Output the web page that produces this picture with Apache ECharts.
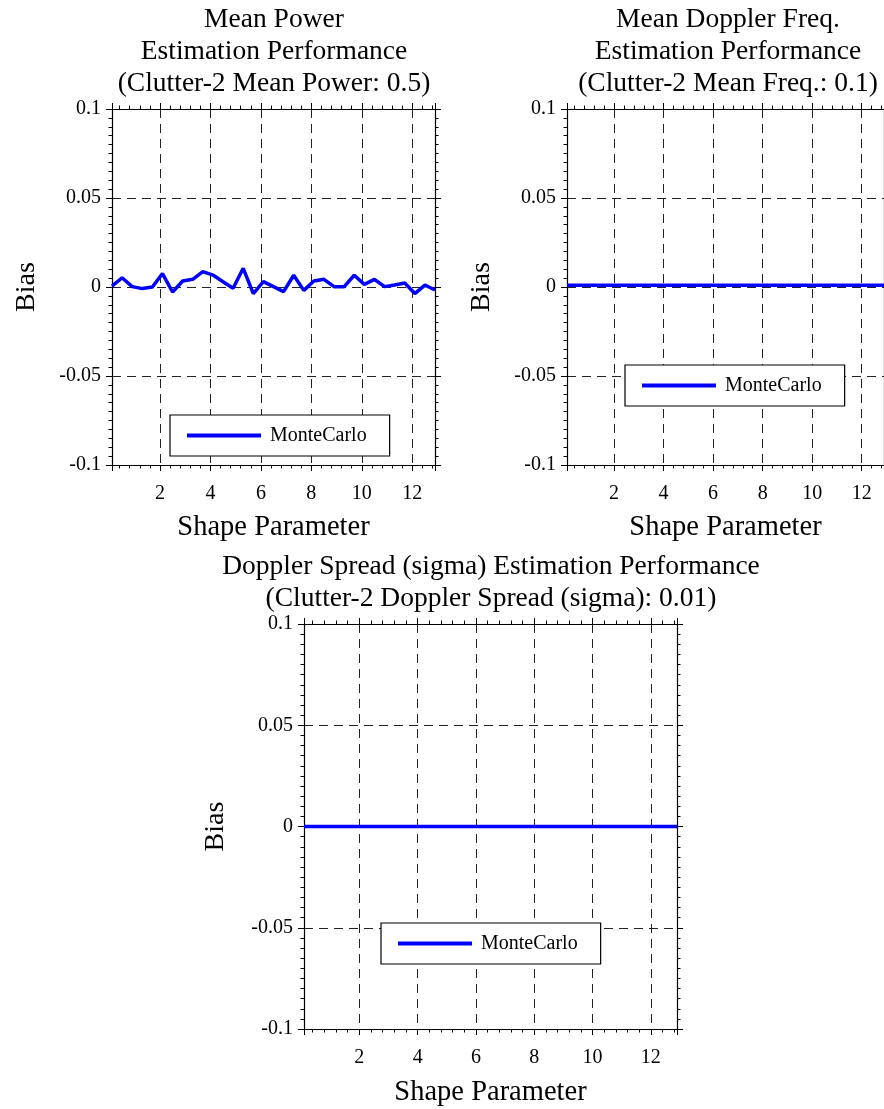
<!DOCTYPE html>
<html>
<head>
<meta charset="utf-8">
<script src="https://cdn.jsdelivr.net/npm/echarts@6/dist/echarts.min.js"></script>
<style>
  html, body { margin: 0; padding: 0; background: #ffffff; }
  #chart { width: 884px; height: 1109px; }
</style>
</head>
<body>
<div id="chart"></div>
<script>
// Shape parameter sweep (x axis shared by all three panels)
const shapeParam = [0.1, 0.5, 0.9, 1.3, 1.7, 2.1, 2.5, 2.9, 3.3, 3.7, 4.1, 4.5, 4.9, 5.3, 5.7, 6.1, 6.5,
  6.9, 7.3, 7.7, 8.1, 8.5, 8.9, 9.3, 9.7, 10.1, 10.5, 10.9, 11.3, 11.7, 12.1, 12.5, 12.9];

// Monte Carlo bias of the mean power estimate
const powerBias = [0.0005, 0.0052, 0.0002, -0.0009, 0.0000, 0.0075, -0.0028, 0.0034, 0.0043, 0.0086,
  0.0067, 0.0030, -0.0007, 0.0105, -0.0037, 0.0030, 0.0002, -0.0026, 0.0066, -0.0019, 0.0034, 0.0043,
  0.0002, 0.0002, 0.0066, 0.0015, 0.0043, 0.0002, 0.0011, 0.0022, -0.0037, 0.0011, -0.0017];

// Monte Carlo bias of the mean Doppler frequency estimate
const freqBias = [0.001, 0.001, 0.001, 0.001, 0.001, 0.001, 0.001, 0.001, 0.001, 0.001, 0.001,
  0.001, 0.001, 0.001, 0.001, 0.001, 0.001, 0.001, 0.001, 0.001, 0.001, 0.001, 0.001, 0.001,
  0.001, 0.001, 0.001, 0.001, 0.001, 0.001, 0.001, 0.001, 0.001];

// Monte Carlo bias of the Doppler spread (sigma) estimate
const spreadBias = [0, 0, 0, 0, 0, 0, 0, 0, 0, 0, 0, 0, 0, 0, 0, 0, 0, 0, 0, 0, 0, 0, 0, 0, 0, 0, 0,
  0, 0, 0, 0, 0, 0];

const panelTitles = [
  ['Mean Power', 'Estimation Performance', '(Clutter-2 Mean Power: 0.5)'],
  ['Mean Doppler Freq.', 'Estimation Performance', '(Clutter-2 Mean Freq.: 0.1)'],
  ['Doppler Spread (sigma) Estimation Performance', '(Clutter-2 Doppler Spread (sigma): 0.01)']
];
const seriesName = 'MonteCarlo';
const xName = 'Shape Parameter';
const yName = 'Bias';

const FONT = '"Liberation Serif", "Times New Roman", serif';
const BLUE = '#0000ff';

// Panel rectangles (plot areas)
const panels = [
  { left: 112, top: 109, width: 323, height: 356, values: powerBias, title: panelTitles[0],
    titleX: 274, titleY: 4, legend: { left: 170, top: 415 }, yGap: 71, xGap: 48 },
  { left: 567, top: 109, width: 322, height: 356, values: freqBias, title: panelTitles[1],
    titleX: 728, titleY: 4, legend: { left: 625, top: 365 }, yGap: 71, xGap: 48 },
  { left: 304, top: 624, width: 373, height: 405, values: spreadBias, title: panelTitles[2],
    titleX: 491, titleY: 551, legend: { left: 381, top: 923 }, yGap: 74, xGap: 49 }
];

const grid = [], xAxis = [], yAxis = [], series = [], legend = [], graphic = [];

const gridLine = { show: true, lineStyle: { color: '#222', width: 1, type: [9, 6] } };

panels.forEach((p, i) => {
  grid.push({ left: p.left, top: p.top, width: p.width, height: p.height, containLabel: false });

  const xBase = {
    type: 'value', gridIndex: i, min: 0.1, max: 12.9, minInterval: 2, maxInterval: 2,
    axisLine: { show: true, onZero: false, lineStyle: { color: '#000', width: 1.2 } },
    axisTick: { show: true, inside: false, length: 6, lineStyle: { color: '#000' } },
    minorTick: { show: true, splitNumber: 5, length: 3.5, lineStyle: { color: '#000' } }
  };
  xAxis.push(Object.assign({}, xBase, {
    position: 'bottom',
    name: xName, nameLocation: 'middle', nameGap: p.xGap,
    nameTextStyle: { fontFamily: FONT, fontSize: 28.5, color: '#000' },
    axisLabel: { show: true, showMinLabel: false, showMaxLabel: false, margin: 19,
      fontFamily: FONT, fontSize: 20, color: '#000' },
    splitLine: gridLine
  }));
  xAxis.push(Object.assign({}, xBase, {
    position: 'top', axisLabel: { show: false }, splitLine: { show: false }
  }));

  const yBase = {
    type: 'value', gridIndex: i, min: -0.1, max: 0.1, interval: 0.05,
    axisLine: { show: true, onZero: false, lineStyle: { color: '#000', width: 1.2 } },
    axisTick: { show: true, inside: false, length: 6, lineStyle: { color: '#000' } },
    minorTick: { show: true, splitNumber: 10, length: 3.5, lineStyle: { color: '#000' } }
  };
  yAxis.push(Object.assign({}, yBase, {
    position: 'left',
    name: yName, nameLocation: 'middle', nameGap: p.yGap,
    nameTextStyle: { fontFamily: FONT, fontSize: 28, color: '#000' },
    axisLabel: { show: true, margin: 11, fontFamily: FONT, fontSize: 20, color: '#000' },
    splitLine: gridLine
  }));
  yAxis.push(Object.assign({}, yBase, {
    position: 'right', axisLabel: { show: false }, splitLine: { show: false }
  }));

  series.push({
    name: seriesName, type: 'line', xAxisIndex: 2 * i, yAxisIndex: 2 * i,
    data: shapeParam.map((x, k) => [x, p.values[k]]),
    symbol: 'none', showSymbol: false, clip: true, z: 5,
    lineStyle: { color: BLUE, width: 3.5 }, itemStyle: { color: BLUE },
    emphasis: { disabled: true }
  });

  // Boxed legend; the icon is a thin bar standing in for the line sample
  legend.push({
    show: true, data: [seriesName], left: p.legend.left, top: p.legend.top,
    orient: 'horizontal', itemWidth: 74, itemHeight: 4, itemGap: 0,
    icon: 'path://M0,0H74V4H0Z',
    itemStyle: { color: BLUE, borderWidth: 0 },
    padding: [9, 23, 9, 17], backgroundColor: '#fff', borderColor: '#000', borderWidth: 1.2,
    selectedMode: false, z: 10,
    textStyle: { fontFamily: FONT, fontSize: 20, color: '#000', padding: [0, 0, 0, 4], lineHeight: 23 }
  });

  graphic.push({
    type: 'text', x: p.titleX, y: p.titleY, z: 20,
    style: {
      text: p.title.join('\n'), align: 'center', verticalAlign: 'top',
      fontFamily: FONT, fontSize: 27.5, lineHeight: 32, fill: '#000'
    }
  });
});

const chart = echarts.init(document.getElementById('chart'), null, { renderer: 'canvas' });
chart.setOption({
  backgroundColor: '#fff',
  animation: false,
  grid, xAxis, yAxis, series, legend, graphic
});
</script>
</body>
</html>
